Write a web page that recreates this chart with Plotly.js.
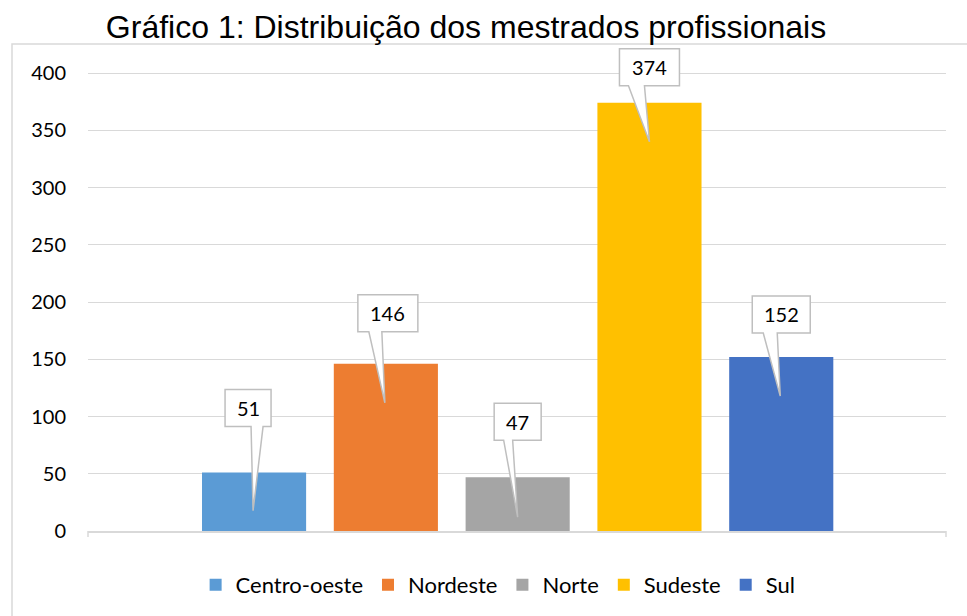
<!DOCTYPE html>
<html>
<head>
<meta charset="utf-8">
<script src="https://cdn.plot.ly/plotly-3.0.1.min.js"></script>
<style>html,body{margin:0;padding:0;background:#fff;}#chart{width:967px;height:616px;}</style>
</head>
<body>
<div id="chart"></div>
<script>
// ---- data ----
var regions = ["Centro-oeste", "Nordeste", "Norte", "Sudeste", "Sul"];
var counts = [51, 146, 47, 374, 152];
var colors = ["#5B9BD5", "#ED7D31", "#A5A5A5", "#FFC000", "#4472C4"];
var yTicks = [0, 50, 100, 150, 200, 250, 300, 350, 400];
var chartTitle = "Gráfico 1: Distribuição dos mestrados profissionais";

// ---- callout styling (pixel offsets relative to bar centre / bar top) ----
var calloutStyle = [
  {cx: -6, bottom: 46, w: 46, wl: -3,  wr: 9,  tip: [-1, 38]},
  {cx: 2,  bottom: 32, w: 60, wl: -17, wr: -4, tip: [-1, 39]},
  {cx: 0,  bottom: 37, w: 47, wl: -14, wr: -5, tip: [0, 40]},
  {cx: 0,  bottom: 17, w: 60, wl: -21, wr: -5, tip: [0, 39]},
  {cx: 0,  bottom: 24, w: 58, wl: -18, wr: -4, tip: [-1, 39]}
];
var boxH = 37;
var bodyFont = "Lato, 'Open Sans', sans-serif";

var traces = regions.map(function (r, i) {
  return {
    type: "bar",
    name: r,
    x: [r],
    y: [counts[i]],
    width: 0.79,
    marker: {color: colors[i], line: {width: 0}},
    hoverinfo: "skip"
  };
});

var shapes = [];
var annotations = [];
regions.forEach(function (r, i) {
  var s = calloutStyle[i];
  var L = s.cx - s.w / 2, R = s.cx + s.w / 2;
  var B = s.bottom, T = s.bottom + boxH;
  var path = "M" + L + "," + T + " L" + R + "," + T + " L" + R + "," + B +
    " L" + s.wr + "," + B + " L" + s.tip[0] + "," + (-s.tip[1]) +
    " L" + s.wl + "," + B + " L" + L + "," + B + " Z";
  shapes.push({
    type: "path", xref: "x", yref: "y",
    xsizemode: "pixel", ysizemode: "pixel",
    xanchor: r, yanchor: counts[i],
    path: path,
    fillcolor: "#ffffff",
    line: {color: "#BFBFBF", width: 1.5},
    layer: "above"
  });
  annotations.push({
    xref: "x", yref: "y", x: r, y: counts[i],
    xshift: s.cx, yshift: s.bottom + boxH / 2,
    text: String(counts[i]), showarrow: false,
    xanchor: "center", yanchor: "middle",
    font: {family: bodyFont, size: 20, color: "#000"}
  });
});

// chart border and axis end ticks
var plotH = 491, plotW = 858;
shapes.push({
  type: "rect", xref: "paper", yref: "paper",
  x0: (12 - 88) / plotW, x1: (990 - 88) / plotW,
  y0: (531 - 640) / plotH, y1: (531 - 44) / plotH,
  line: {color: "#D9D9D9", width: 1.5}, fillcolor: "rgba(0,0,0,0)", layer: "below"
});
[0, 1].forEach(function (px) {
  shapes.push({
    type: "line", xref: "paper", yref: "paper",
    x0: px, x1: px, y0: 0, y1: -6 / plotH,
    line: {color: "#D9D9D9", width: 1.5}
  });
});

var layout = {
  width: 967, height: 616,
  margin: {l: 88, r: 21, t: 40, b: 85, pad: 0, autoexpand: false},
  paper_bgcolor: "#ffffff", plot_bgcolor: "#ffffff",
  title: {
    text: chartTitle,
    font: {family: "'Liberation Sans', Arial, sans-serif", size: 32, color: "#000"},
    xref: "container", yref: "container",
    x: 466 / 967, xanchor: "center",
    y: 1 - 26.5 / 616, yanchor: "middle"
  },
  barmode: "overlay",
  showlegend: true,
  legend: {
    orientation: "h",
    x: 0.478, xanchor: "center",
    y: -54 / plotH, yanchor: "middle",
    font: {family: bodyFont, size: 22, color: "#000"},
    traceorder: "normal",
    bgcolor: "rgba(0,0,0,0)"
  },
  xaxis: {
    type: "category",
    categoryorder: "array", categoryarray: regions,
    range: [-1.26, 5.25],
    showticklabels: false, ticks: "",
    showgrid: false, zeroline: false,
    showline: true, linecolor: "#D9D9D9", linewidth: 1.5,
    fixedrange: true
  },
  yaxis: {
    range: [0, plotH / 1.145],
    tickvals: yTicks, ticktext: yTicks.map(String),
    showgrid: true, gridcolor: "#D9D9D9", gridwidth: 1,
    zeroline: false, showline: false, ticks: "",
    ticklabelstandoff: 21,
    tickfont: {family: bodyFont, size: 20, color: "#000"},
    fixedrange: true
  },
  shapes: shapes,
  annotations: annotations
};

Plotly.newPlot("chart", traces, layout, {displayModeBar: false, staticPlot: true});
</script>
</body>
</html>
